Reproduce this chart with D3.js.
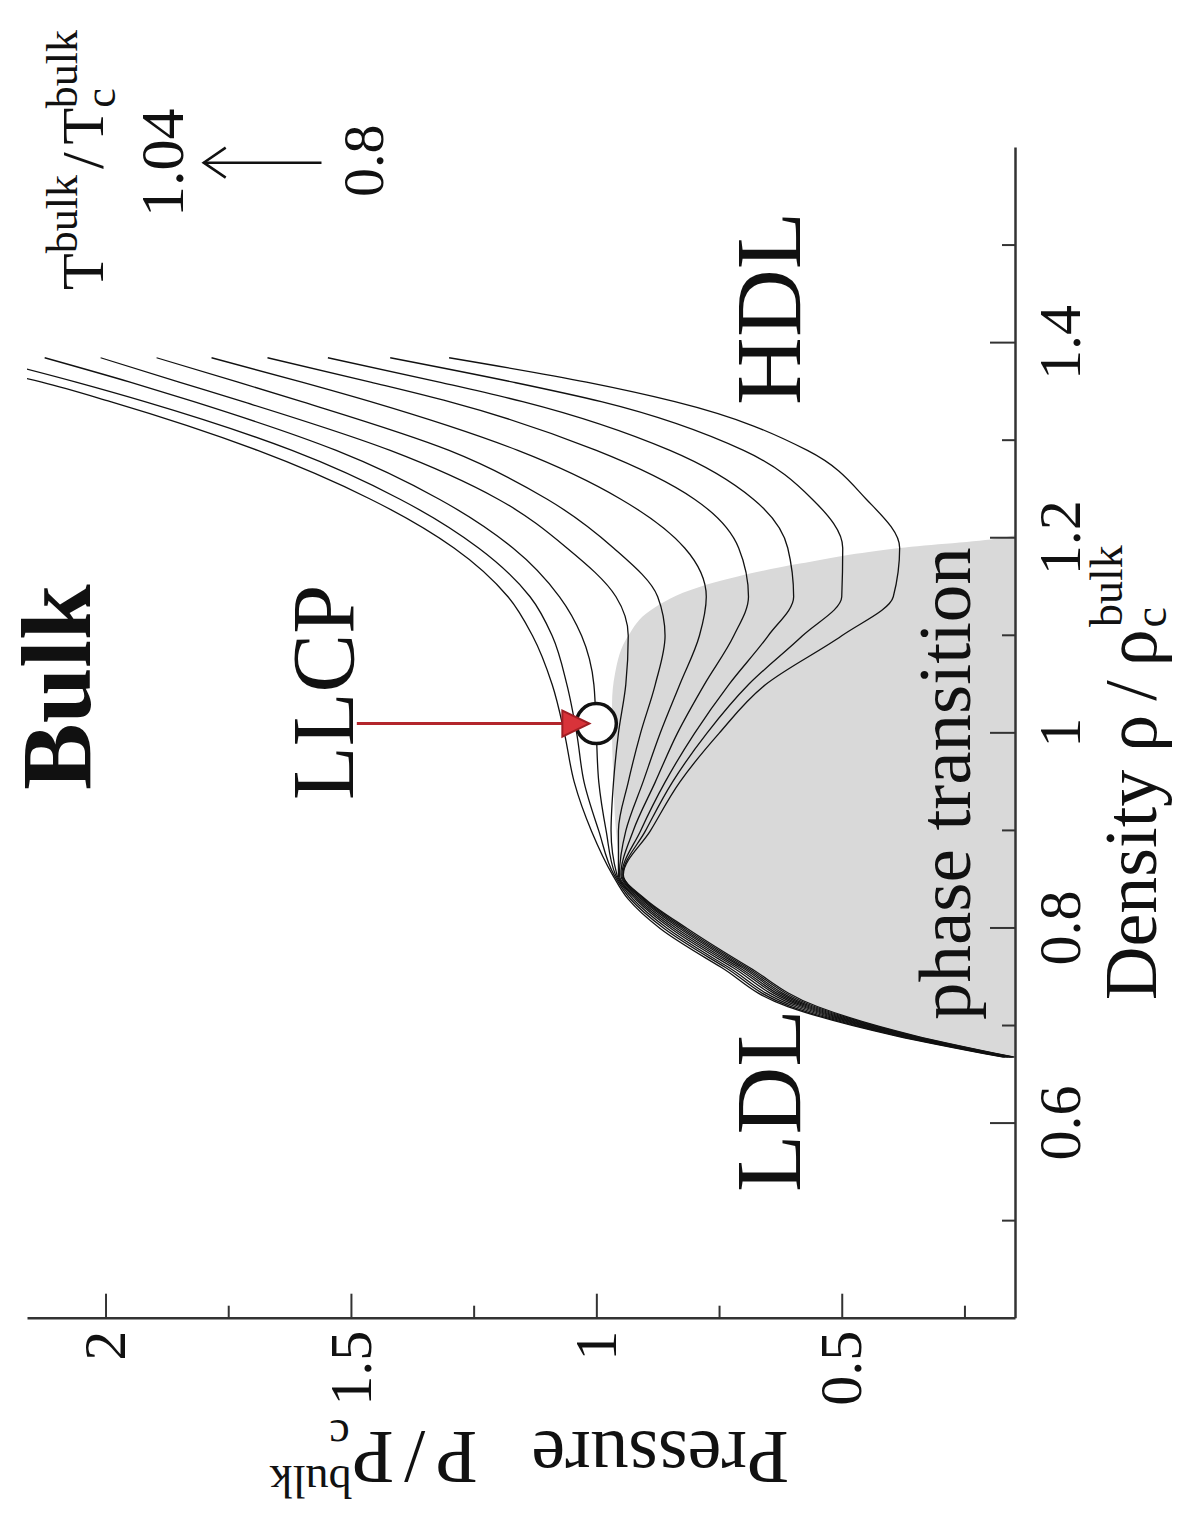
<!DOCTYPE html>
<html>
<head>
<meta charset="utf-8">
<script src="https://d3js.org/d3.v7.min.js"></script>
<style>
  body { margin: 0; background: #fff; }
  svg text { font-family: "Liberation Serif", "DejaVu Serif", serif; fill: #111; }
</style>
</head>
<body>
<svg id="chart"></svg>
<script>
// density grid shared by every isotherm (rho / rho_c)
const rhoGrid = [0.668, 0.69, 0.72, 0.76, 0.80, 0.83, 0.855, 0.90, 0.95, 1.00, 1.05, 1.10, 1.14, 1.19, 1.24, 1.29, 1.34, 1.36, 1.385];

// pressure (P / P_c) along each isotherm, hottest first
const p104 = [0.17, 0.39, 0.61, 0.745, 0.87, 0.935, 0.967, 1.01, 1.045, 1.065, 1.09, 1.13, 1.18, 1.29, 1.46, 1.69, 1.99, 2.13, 2.36];
const p101 = [0.167, 0.385, 0.603, 0.737, 0.862, 0.93, 0.964, 0.995, 1.025, 1.04, 1.06, 1.09, 1.135, 1.24, 1.40, 1.62, 1.92, 2.06, 2.25];
const p099 = [0.164, 0.38, 0.595, 0.73, 0.855, 0.925, 0.961, 0.98, 0.995, 1.0, 1.005, 1.03, 1.075, 1.17, 1.32, 1.53, 1.82, 1.95, 2.124];
const p096 = [0.161, 0.375, 0.587, 0.722, 0.848, 0.92, 0.958, 0.97, 0.965, 0.955, 0.94, 0.935, 0.96, 1.06, 1.20, 1.42, 1.72, 1.85, 2.01];
const p093 = [0.158, 0.371, 0.58, 0.715, 0.842, 0.916, 0.955, 0.955, 0.935, 0.91, 0.88, 0.86, 0.875, 0.965, 1.10, 1.30, 1.60, 1.73, 1.896];
const p091 = [0.156, 0.367, 0.574, 0.709, 0.836, 0.912, 0.953, 0.94, 0.905, 0.87, 0.83, 0.79, 0.776, 0.82, 0.95, 1.16, 1.46, 1.60, 1.784];
const p088 = [0.154, 0.363, 0.568, 0.703, 0.83, 0.908, 0.95, 0.925, 0.88, 0.835, 0.78, 0.72, 0.69, 0.71, 0.80, 1.00, 1.30, 1.46, 1.67];
const p085 = [0.152, 0.358, 0.562, 0.698, 0.825, 0.905, 0.948, 0.91, 0.86, 0.80, 0.73, 0.65, 0.598, 0.61, 0.68, 0.85, 1.15, 1.32, 1.547];
const p083 = [0.15, 0.354, 0.556, 0.693, 0.82, 0.902, 0.946, 0.90, 0.845, 0.775, 0.69, 0.58, 0.50, 0.498, 0.56, 0.70, 0.99, 1.17, 1.42];
const p080 = [0.148, 0.35, 0.55, 0.688, 0.815, 0.90, 0.945, 0.89, 0.83, 0.75, 0.655, 0.50, 0.395, 0.382, 0.45, 0.57, 0.84, 1.02, 1.30];
const isotherms = [p104, p101, p099, p096, p093, p091, p088, p085, p083, p080];

// shaded phase-transition region (upper boundary)
const grayRho = [0.668, 0.69, 0.72, 0.76, 0.80, 0.83, 0.855, 0.90, 0.95, 1.00, 1.03, 1.061, 1.10, 1.126, 1.15, 1.174, 1.19, 1.20, 1.203];
const grayP = [0.147, 0.35, 0.55, 0.688, 0.815, 0.90, 0.945, 0.96, 0.965, 0.968, 0.968, 0.962, 0.935, 0.89, 0.79, 0.585, 0.382, 0.178, 0.147];

const llcp = [1.01, 1.0];
const densityDomain = [0.4, 1.6];
const pressureDomain = [0.147, 2.16];
const densityTicks = [0.6, 0.8, 1, 1.2, 1.4];
const densityMinor = [0.5, 0.7, 0.9, 1.1, 1.3, 1.5];
const pressureTicks = [0.5, 1, 1.5, 2];
const pressureMinor = [0.25, 0.75, 1.25, 1.75];

const svgWidth = 1178, svgHeight = 1518;
const svg = d3.select('#chart').attr('width', svgWidth).attr('height', svgHeight);

// whole figure is drawn upright and then turned a quarter turn counter-clockwise
const plot = svg.append('g').attr('transform', `translate(0,${svgHeight}) rotate(-90)`);

const x = d3.scaleLinear().domain(densityDomain).range([199.3, 1370]);
const y = d3.scaleLinear().domain(pressureDomain).range([1015, 27]);

plot.append('defs').append('clipPath').attr('id', 'clip')
    .append('rect')
    .attr('x', x(densityDomain[0]))
    .attr('y', y(pressureDomain[1]))
    .attr('width', x(densityDomain[1]) - x(densityDomain[0]))
    .attr('height', y(pressureDomain[0]) - y(pressureDomain[1]));

// shaded region
const area = d3.area()
    .x((d) => x(d[0]))
    .y0(y(pressureDomain[0]))
    .y1((d) => y(d[1]))
    .curve(d3.curveMonotoneX);

plot.append('path')
    .datum(grayRho.map((r, i) => [r, grayP[i]]))
    .attr('d', area)
    .attr('fill', '#d9d9d9');

// isotherms
const line = d3.line()
    .x((d) => x(d[0]))
    .y((d) => y(d[1]))
    .curve(d3.curveMonotoneX);

plot.append('g')
    .attr('clip-path', 'url(#clip)')
    .selectAll('path')
    .data(isotherms)
    .join('path')
    .attr('d', (p) => line(rhoGrid.map((r, i) => [r, p[i]])))
    .attr('fill', 'none')
    .attr('stroke', '#111')
    .attr('stroke-width', 1.3);

// axes
function styleAxis(g) {
  g.select('.domain').attr('stroke', '#333').attr('stroke-width', 2.5);
  g.selectAll('.tick line').attr('stroke', '#333').attr('stroke-width', 2);
  g.selectAll('.tick text')
      .attr('font-family', '"Liberation Serif", serif')
      .attr('font-size', 60)
      .attr('fill', '#111');
}

plot.append('g')
    .attr('transform', `translate(0,${y(pressureDomain[0])})`)
    .call(d3.axisBottom(x).tickValues(densityTicks).tickSize(-25).tickSizeOuter(0)
        .tickPadding(22).tickFormat((d) => d))
    .call(styleAxis);

plot.append('g')
    .attr('transform', `translate(0,${y(pressureDomain[0])})`)
    .call(d3.axisBottom(x).tickValues(densityMinor).tickSize(-13).tickFormat(''))
    .call((g) => g.select('.domain').remove())
    .call(styleAxis);

plot.append('g')
    .attr('transform', `translate(${x(densityDomain[0])},0)`)
    .call(d3.axisLeft(y).tickValues(pressureTicks).tickSize(-25).tickSizeOuter(0)
        .tickPadding(12).tickFormat((d) => d))
    .call(styleAxis);

plot.append('g')
    .attr('transform', `translate(${x(densityDomain[0])},0)`)
    .call(d3.axisLeft(y).tickValues(pressureMinor).tickSize(-13).tickFormat(''))
    .call((g) => g.select('.domain').remove())
    .call(styleAxis);

// axis titles
const xTitle = plot.append('text')
    .attr('x', 518).attr('y', 1156)
    .attr('font-size', 74);
xTitle.append('tspan').text('Density');
xTitle.append('tspan').attr('dx', 18).attr('letter-spacing', 14).text('ρ/ρ');
xTitle.append('tspan').attr('font-size', 46).attr('dx', -12).attr('dy', 10).text('c');
xTitle.append('tspan').attr('font-size', 46).attr('dx', -20).attr('dy', -44).text('bulk');

const yTitle = plot.append('text')
    .attr('transform', 'translate(86,789) rotate(-90)')
    .attr('font-size', 76);
yTitle.append('tspan').text('Pressure');
yTitle.append('tspan').attr('dx', 54).attr('letter-spacing', 10).text('P/P');
yTitle.append('tspan').attr('font-size', 46).attr('dx', -8).attr('dy', 12).text('c');
yTitle.append('tspan').attr('font-size', 46).attr('dx', -22).attr('dy', -46).text('bulk');

// region labels
plot.append('text').attr('x', 728).attr('y', 90)
    .attr('font-size', 100).attr('font-weight', 'bold').text('Bulk');
plot.append('text').attr('x', 718).attr('y', 353).attr('font-size', 88).text('LLCP');
plot.append('text').attr('x', 1113).attr('y', 800).attr('font-size', 94).text('HDL');
plot.append('text').attr('x', 326).attr('y', 800).attr('font-size', 94).text('LDL');
plot.append('text').attr('x', 498).attr('y', 970).attr('font-size', 75).text('phase transition');

// temperature legend
const tLabel = plot.append('text').attr('x', 1228).attr('y', 103).attr('font-size', 60);
tLabel.append('tspan').text('T');
tLabel.append('tspan').attr('font-size', 44).attr('dy', -26).text('bulk');
tLabel.append('tspan').attr('font-size', 60).attr('dx', 6).attr('dy', 26).text('/');
tLabel.append('tspan').attr('font-size', 60).attr('dx', 8).text('T');
tLabel.append('tspan').attr('font-size', 44).attr('dy', 12).text('c');
tLabel.append('tspan').attr('font-size', 44).attr('dx', -20).attr('dy', -38).text('bulk');

plot.append('text').attr('x', 1301).attr('y', 183).attr('font-size', 62).text('1.04');
plot.append('text').attr('x', 1321).attr('y', 383).attr('font-size', 58).text('0.8');

const legendRho = 1.585;
plot.append('line')
    .attr('x1', x(legendRho)).attr('x2', x(legendRho))
    .attr('y1', y(1.56)).attr('y2', y(1.80))
    .attr('stroke', '#111').attr('stroke-width', 2.5);
plot.append('path')
    .attr('d', `M${x(legendRho) - 15},${y(1.80) + 22} L${x(legendRho)},${y(1.80)} L${x(legendRho) + 15},${y(1.80) + 22}`)
    .attr('fill', 'none').attr('stroke', '#111').attr('stroke-width', 2.5);

// critical point marker and its arrow
plot.append('circle')
    .attr('cx', x(llcp[0])).attr('cy', y(llcp[1])).attr('r', 20)
    .attr('fill', '#fff').attr('stroke', '#111').attr('stroke-width', 3.5);

const tipY = y(llcp[1]) - 7;
plot.append('line')
    .attr('x1', x(llcp[0])).attr('x2', x(llcp[0]))
    .attr('y1', y(1.488)).attr('y2', tipY - 20)
    .attr('stroke', '#b3262c').attr('stroke-width', 3);
plot.append('path')
    .attr('d', `M${x(llcp[0])},${tipY} L${x(llcp[0]) - 13},${tipY - 27} L${x(llcp[0]) + 13},${tipY - 27} Z`)
    .attr('fill', '#d8333a').attr('stroke', '#a01e24').attr('stroke-width', 2);
</script>
</body>
</html>
